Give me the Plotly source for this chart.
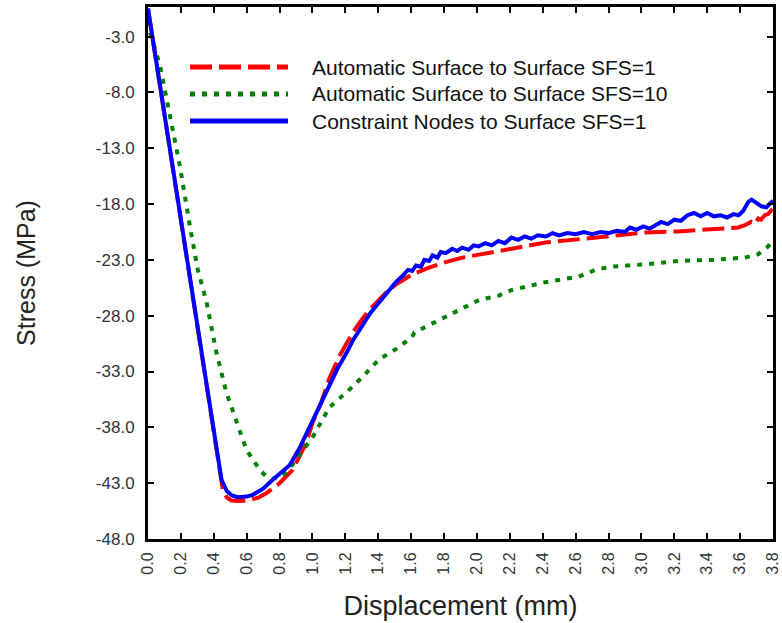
import plotly.graph_objects as go

# ---------------- data ----------------
series_names = [
    "Automatic Surface to Surface SFS=1",
    "Automatic Surface to Surface SFS=10",
    "Constraint Nodes to Surface SFS=1",
]

red_x = [0.0, 0.455, 0.48, 0.507, 0.56, 0.618, 0.67, 0.719, 0.8, 0.879, 0.962, 1.0, 1.05,
         1.103, 1.164, 1.204, 1.25, 1.303, 1.35, 1.406, 1.45, 1.507, 1.606, 1.709, 1.81,
         1.91, 2.012, 2.212, 2.416, 2.618, 2.818, 3.022, 3.224, 3.424, 3.588, 3.63, 3.667,
         3.69, 3.71, 3.727, 3.75, 3.77, 3.788, 3.8]
red_y = [-0.5, -43.6, -44.3, -44.55, -44.6, -44.5, -44.3, -43.9, -43.0, -41.8, -39.4, -37.6,
         -35.9, -33.6, -31.6, -30.5, -29.4, -28.3, -27.4, -26.55, -25.9, -25.2, -24.3, -23.7,
         -23.2, -22.8, -22.5, -22.0, -21.45, -21.15, -20.9, -20.55, -20.45, -20.3, -20.1,
         -19.9, -19.6, -19.8, -19.3, -19.4, -19.0, -18.9, -18.6, -18.4]

green_x = [0.0, 0.012, 0.073, 0.133, 0.194, 0.255, 0.303, 0.356, 0.416, 0.477, 0.538, 0.598,
           0.679, 0.72, 0.758, 0.8, 0.85, 0.9, 0.962, 1.0, 1.103, 1.204, 1.303, 1.406, 1.507,
           1.606, 1.62, 1.709, 1.81, 1.931, 2.012, 2.133, 2.212, 2.416, 2.618, 2.719, 2.818,
           3.022, 3.224, 3.424, 3.628, 3.709, 3.77, 3.8]
green_y = [-0.5, -2.6, -5.6, -10.1, -14.6, -20.0, -23.9, -26.8, -31.3, -34.9, -37.6, -40.0,
           -41.8, -42.4, -42.6, -42.5, -41.9, -40.9, -39.8, -38.9, -36.2, -34.9, -33.5, -31.9,
           -31.0, -29.9, -29.5, -28.8, -28.1, -27.2, -26.6, -26.2, -25.7, -25.0, -24.5, -23.9,
           -23.6, -23.4, -23.1, -23.0, -22.8, -22.5, -21.8, -21.2]

blue_x = [0.0, 0.447, 0.479, 0.51, 0.545, 0.6, 0.636, 0.70, 0.758, 0.81, 0.861, 0.92, 0.962,
          1.0, 1.05, 1.103, 1.15, 1.204, 1.25, 1.303, 1.35, 1.406, 1.45, 1.507, 1.55, 1.58,
          1.606, 1.63, 1.66, 1.68, 1.709, 1.73, 1.76, 1.78, 1.81, 1.85, 1.88, 1.91, 1.95,
          1.98, 2.01, 2.05, 2.09, 2.13, 2.17, 2.21, 2.25, 2.29, 2.33, 2.37, 2.42, 2.46, 2.50,
          2.55, 2.60, 2.65, 2.70, 2.75, 2.80, 2.85, 2.90, 2.93, 2.97, 3.01, 3.05, 3.09, 3.12,
          3.16, 3.20, 3.24, 3.28, 3.32, 3.36, 3.40, 3.44, 3.48, 3.52, 3.56, 3.59, 3.62, 3.65,
          3.67, 3.70, 3.73, 3.76, 3.79, 3.80]
blue_y = [-0.5, -42.7, -43.7, -44.1, -44.25, -44.2, -44.05, -43.5, -42.7, -42.1, -41.4, -39.9,
          -38.6, -37.3, -35.7, -34.2, -32.8, -31.4, -30.1, -28.9, -27.8, -26.8, -26.0, -25.0,
          -24.4, -23.9, -24.0, -23.5, -23.6, -23.0, -23.1, -22.6, -22.8, -22.3, -22.4, -22.0,
          -22.2, -21.9, -22.1, -21.7, -21.8, -21.5, -21.7, -21.3, -21.5, -21.0, -21.2, -20.9,
          -21.1, -20.8, -20.9, -20.6, -20.8, -20.6, -20.7, -20.5, -20.7, -20.5, -20.6, -20.4,
          -20.5, -20.1, -20.3, -20.0, -20.2, -19.8, -19.6, -19.8, -19.4, -19.5, -19.0, -18.8,
          -19.1, -18.8, -19.1, -19.0, -19.2, -18.9, -19.0, -18.6, -17.8, -17.6, -17.9, -18.2,
          -18.3, -17.9, -17.7]

x_ticks = [0.0, 0.2, 0.4, 0.6, 0.8, 1.0, 1.2, 1.4, 1.6, 1.8, 2.0, 2.2, 2.4, 2.6, 2.8, 3.0,
           3.2, 3.4, 3.6, 3.8]
y_ticks = [-48.0, -43.0, -38.0, -33.0, -28.0, -23.0, -18.0, -13.0, -8.0, -3.0]

colors = ["#ff0000", "#008000", "#0000ff"]
dashes = ["22px,7px", "5px,7px", "solid"]

# ---------------- figure ----------------
fig = go.Figure()
for xs, ys, name, c, d in [
    (red_x, red_y, series_names[0], colors[0], dashes[0]),
    (green_x, green_y, series_names[1], colors[1], dashes[1]),
    (blue_x, blue_y, series_names[2], colors[2], dashes[2]),
]:
    fig.add_trace(go.Scatter(x=xs, y=ys, mode="lines", name=name,
                             line=dict(color=c, width=4, dash=d)))

FONT = "Liberation Sans, Arial, sans-serif"

fig.update_layout(
    width=782, height=623,
    margin=dict(l=148, r=9, t=7, b=84),
    plot_bgcolor="white", paper_bgcolor="white",
    showlegend=False,
    font=dict(family=FONT, color="#222"),
)

fig.update_xaxes(
    range=[0, 3.8], tickvals=x_ticks, ticktext=[f"{v:.1f}" for v in x_ticks],
    tickangle=-90, ticks="inside", ticklen=6, tickwidth=1.5, tickcolor="black",
    showline=True, linecolor="black", linewidth=3, mirror="ticks",
    showgrid=False, zeroline=False, tickfont=dict(size=16, color="#333"),
    ticklabelstandoff=4, automargin=False,
    title=dict(text="Displacement (mm)", font=dict(size=27, color="#222"), standoff=23),
)
fig.update_yaxes(
    range=[-48, -0.35], tickvals=y_ticks, ticktext=[f"{v:.1f}" for v in y_ticks],
    ticks="inside", ticklen=6, tickwidth=1.5, tickcolor="black",
    showline=True, linecolor="black", linewidth=3, mirror="ticks",
    showgrid=False, zeroline=False, tickfont=dict(size=17, color="#333"),
    ticklabelstandoff=7, automargin=False,
    title=dict(text="Stress (MPa)", font=dict(size=25, color="#222"), standoff=54),
)

# manual legend (long line samples as in the reference)
leg_rows_y = [0.887, 0.8365, 0.7857]
for name, c, d, yy in zip(series_names, colors, dashes, leg_rows_y):
    fig.add_shape(type="line", xref="paper", yref="paper", x0=0.0672, x1=0.224,
                  y0=yy, y1=yy, line=dict(color=c, width=5, dash=d))
    fig.add_annotation(xref="paper", yref="paper", x=0.2592, y=yy, text=name,
                       showarrow=False, xanchor="left", yanchor="middle",
                       font=dict(size=21, color="#111", family=FONT))

# remove the browser's default 8px page margin so the figure fills the window
fig.write_html("out.html", config={"displayModeBar": False},
               post_script="document.body.style.margin='0px';")
